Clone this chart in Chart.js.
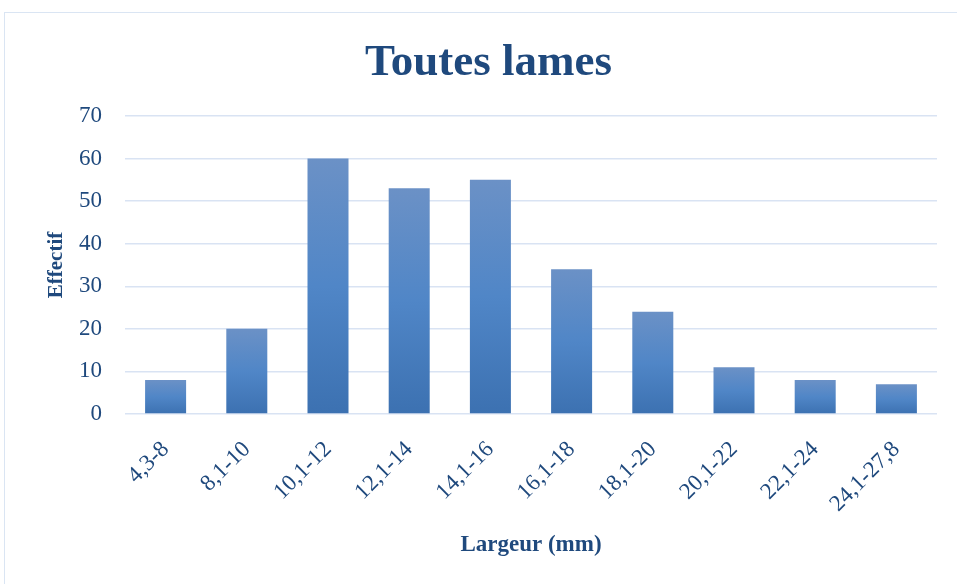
<!DOCTYPE html>
<html>
<head>
<meta charset="utf-8">
<script src="https://cdn.jsdelivr.net/npm/chart.js@4"></script>
<style>
  html, body { margin: 0; padding: 0; background: #fff; }
  #wrap { position: relative; width: 957px; height: 584px; overflow: hidden; }
  #frame { position: absolute; left: 4px; top: 12px; width: 1000px; height: 600px; border: 1.5px solid #dae5f3; }
  canvas { position: absolute; left: 0; top: 0; }
</style>
</head>
<body>
<div id="wrap">
  <div id="frame"></div>
  <canvas id="out" width="957" height="584"></canvas>
</div>
<script>
const classes = ["4,3-8", "8,1-10", "10,1-12", "12,1-14", "14,1-16", "16,1-18", "18,1-20", "20,1-22", "22,1-24", "24,1-27,8"];
const effectifs = [8, 20, 60, 53, 55, 34, 24, 11, 8, 7];
const yTicks = [0, 10, 20, 30, 40, 50, 60, 70];

const navy = "#1f497d";
const serif = "'Liberation Serif', 'DejaVu Serif', serif";

// each bar gets its own top-to-bottom gradient
function barFill(ctx) {
  const chart = ctx.chart;
  const y = chart.scales.y;
  if (!chart.chartArea || !y || ctx.raw === undefined) return "#4f86c6";
  const top = y.getPixelForValue(ctx.raw);
  const base = y.getPixelForValue(0);
  const g = chart.ctx.createLinearGradient(0, top, 0, base);
  g.addColorStop(0, "#6b91c6");
  g.addColorStop(0.5, "#5086c7");
  g.addColorStop(1, "#3c71b1");
  return g;
}

const canvasCtx = document.getElementById("out").getContext("2d");
new Chart(canvasCtx, {
  type: "bar",
  data: {
    labels: classes,
    datasets: [{
      data: effectifs,
      backgroundColor: barFill,
      categoryPercentage: 1,
      barPercentage: 0.505
    }]
  },
  options: {
    responsive: false,
    animation: false,
    layout: { padding: { left: 40, right: 20, top: 0, bottom: 0 } },
    plugins: {
      legend: { display: false },
      tooltip: { enabled: false },
      title: {
        display: true,
        text: "Toutes lames",
        color: navy,
        font: { family: serif, size: 45, weight: "bold", lineHeight: 1.2 },
        padding: { top: 36, bottom: 26 }
      }
    },
    scales: {
      x: {
        grid: { display: false },
        border: { display: false },
        ticks: {
          color: navy,
          font: { family: serif, size: 23 },
          minRotation: 45,
          maxRotation: 45,
          padding: 14
        },
        title: {
          display: true,
          text: "Largeur (mm)",
          color: navy,
          font: { family: serif, size: 23, weight: "bold", lineHeight: 1.2 },
          padding: { top: 0, bottom: 25 }
        },
        afterFit(scale) { scale.height = 170; }
      },
      y: {
        min: 0,
        max: 70,
        afterBuildTicks(scale) { scale.ticks = yTicks.map(v => ({ value: v })); },
        grid: { color: "#d9e3f3", lineWidth: 1.5, drawTicks: false },
        border: { display: false },
        ticks: {
          color: navy,
          font: { family: serif, size: 23 },
          padding: 23
        },
        title: {
          display: true,
          text: "Effectif",
          color: navy,
          font: { family: serif, size: 21, weight: "bold", lineHeight: 1.2 },
          padding: { top: 4, bottom: 0 }
        },
        afterFit(scale) { scale.width = 85; }
      }
    }
  }
});
</script>
</body>
</html>
